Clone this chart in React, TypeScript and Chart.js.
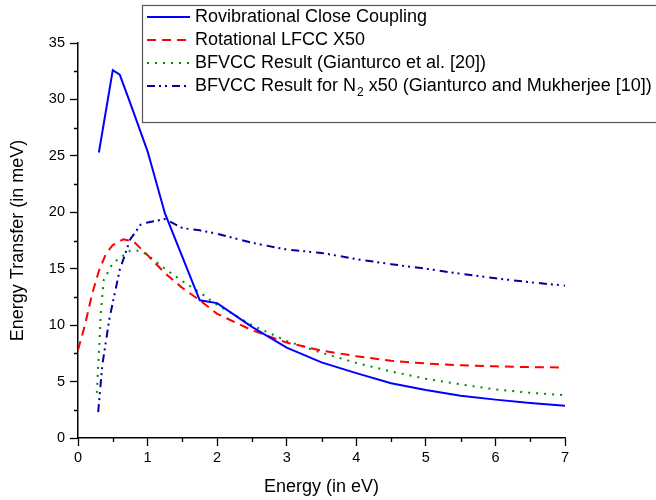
import React, { useEffect, useRef } from "react";
import { Chart, registerables } from "chart.js";

Chart.register(...registerables);

const rovibX = [0.3, 0.5, 0.6, 0.75, 1.0, 1.25, 1.75, 2.0, 2.5, 3.0, 3.5, 4.0, 4.5, 5.0, 5.5, 6.0, 6.5, 7.0];
const rovibY = [25.3, 32.6, 32.2, 29.7, 25.4, 19.9, 12.2, 11.95, 9.85, 8.0, 6.7, 5.75, 4.85, 4.25, 3.75, 3.4, 3.1, 2.85];

const rotX = [0, 0.1, 0.2, 0.3, 0.4, 0.5, 0.65, 0.8, 1.0, 1.25, 1.5, 1.75, 2.0, 2.5, 3.0, 3.5, 4.0, 4.5, 5.0, 5.5, 6.0, 6.5, 7.0];
const rotY = [7.8, 10.0, 12.7, 14.8, 16.3, 17.1, 17.6, 17.4, 16.2, 14.6, 13.3, 12.2, 11.0, 9.55, 8.45, 7.75, 7.25, 6.85, 6.6, 6.45, 6.35, 6.28, 6.25];

const bfvccX = [0.27, 0.3, 0.33, 0.37, 0.5, 0.75, 0.9, 1.0, 1.25, 1.5, 1.75, 2.0, 2.5, 3.0, 3.5, 4.0, 4.5, 5.0, 5.5, 6.0, 6.5, 7.0];
const bfvccY = [4.0, 7.5, 11.3, 14.0, 15.5, 16.6, 16.6, 16.2, 15.0, 13.9, 12.9, 11.8, 10.0, 8.6, 7.55, 6.65, 5.9, 5.25, 4.75, 4.3, 4.0, 3.8];

const n2X = [0.29, 0.35, 0.45, 0.5, 0.6, 0.75, 0.9, 1.0, 1.25, 1.5, 1.75, 2.0, 2.5, 3.0, 3.5, 4.0, 4.5, 5.0, 5.5, 6.0, 6.5, 7.0];
const n2Y = [2.3, 6.5, 10.5, 12.0, 14.9, 17.6, 18.9, 19.1, 19.4, 18.6, 18.4, 18.1, 17.3, 16.7, 16.4, 15.85, 15.4, 15.0, 14.55, 14.15, 13.8, 13.5];

const xTicks = [0, 1, 2, 3, 4, 5, 6, 7];
const yTicks = [0, 5, 10, 15, 20, 25, 30, 35];

const legendLabels = [
  "Rovibrational Close Coupling",
  "Rotational LFCC X50",
  "BFVCC Result (Gianturco et al. [20])",
  "BFVCC Result for N",
];

const FONT = "Arial, 'Liberation Sans', sans-serif";

const styles = [
  { color: "#0000ff", dash: [] as number[] },
  { color: "#ff0000", dash: [9, 6] },
  { color: "#008c00", dash: [2, 6] },
  { color: "#0000a0", dash: [8, 4, 2, 4, 2, 5] },
];

const pts = (xs: number[], ys: number[]) => xs.map((x, i) => ({ x, y: ys[i] }));

const decorPlugin = {
  id: "decor",
  afterDraw(chart: any) {
    const ctx = chart.ctx;
    const xs = chart.scales.x;
    const ys = chart.scales.y;
    const area = chart.chartArea;
    ctx.save();
    // minor ticks
    ctx.strokeStyle = "#000";
    ctx.lineWidth = 1.3;
    ctx.beginPath();
    for (let v = 0.5; v < 7; v += 1) {
      const px = Math.round(xs.getPixelForValue(v)) + 0.5;
      ctx.moveTo(px, area.bottom);
      ctx.lineTo(px, area.bottom + 4);
    }
    for (let v = 2.5; v < 35; v += 5) {
      const py = Math.round(ys.getPixelForValue(v)) + 0.5;
      ctx.moveTo(area.left, py);
      ctx.lineTo(area.left - 4, py);
    }
    ctx.stroke();

    // axis titles
    ctx.fillStyle = "#000";
    ctx.font = `18px ${FONT}`;
    ctx.textAlign = "center";
    ctx.textBaseline = "middle";
    ctx.fillText("Energy (in eV)", (area.left + area.right) / 2, 487);
    ctx.save();
    ctx.translate(18, (area.top + area.bottom) / 2);
    ctx.rotate(-Math.PI / 2);
    ctx.fillText("Energy Transfer (in meV)", 0, 0);
    ctx.restore();

    // legend
    const bx = 142.5, by = 5.5, bw = 600, bh = 117;
    ctx.fillStyle = "#fff";
    ctx.fillRect(bx, by, bw, bh);
    ctx.strokeStyle = "#555";
    ctx.lineWidth = 1.2;
    ctx.setLineDash([]);
    ctx.strokeRect(bx, by, bw, bh);
    const rows = [17, 40, 63, 86];
    ctx.textAlign = "left";
    ctx.textBaseline = "middle";
    rows.forEach((ry, i) => {
      ctx.strokeStyle = styles[i].color;
      ctx.lineWidth = 2;
      ctx.setLineDash(styles[i].dash);
      ctx.beginPath();
      ctx.moveTo(147, ry);
      ctx.lineTo(190, ry);
      ctx.stroke();
      ctx.setLineDash([]);
      ctx.fillStyle = "#000";
      ctx.font = `18px ${FONT}`;
      ctx.fillText(legendLabels[i], 195, ry);
      if (i === 3) {
        const w = ctx.measureText(legendLabels[i]).width;
        ctx.font = `12px ${FONT}`;
        ctx.fillText("2", 195 + w + 1, ry + 7);
        const w2 = ctx.measureText("2").width;
        ctx.font = `18px ${FONT}`;
        ctx.fillText(" x50 (Gianturco and Mukherjee [10])", 195 + w + 1 + w2, ry);
      }
    });
    ctx.restore();
  },
};

export default function App() {
  const ref = useRef<HTMLCanvasElement | null>(null);
  useEffect(() => {
    document.body.style.margin = "0";
    const canvas = ref.current!;
    const mk = (label: string, xs: number[], ys: number[], i: number) => ({
      label,
      data: pts(xs, ys),
      borderColor: styles[i].color,
      backgroundColor: styles[i].color,
      borderDash: styles[i].dash,
      borderWidth: 2,
      pointRadius: 0,
      tension: 0,
      fill: false,
    });
    const chart = new Chart(canvas, {
      type: "line",
      data: {
        datasets: [
          mk("Rovibrational Close Coupling", rovibX, rovibY, 0),
          mk("Rotational LFCC X50", rotX, rotY, 1),
          mk("BFVCC Result (Gianturco et al. [20])", bfvccX, bfvccY, 2),
          mk("BFVCC Result for N2 x50 (Gianturco and Mukherjee [10])", n2X, n2Y, 3),
        ],
      },
      options: {
        animation: false,
        responsive: false,
        maintainAspectRatio: false,
        layout: { padding: { left: 0, right: 91, top: 43, bottom: 0 } },
        plugins: { legend: { display: false }, tooltip: { enabled: false } },
        scales: {
          x: {
            type: "linear",
            min: 0,
            max: 7,
            afterBuildTicks: (s: any) => { s.ticks = xTicks.map((v) => ({ value: v })); },
            afterFit: (s: any) => { s.height = 62; },
            grid: { drawOnChartArea: false, drawTicks: true, tickLength: 8, color: "#000", tickWidth: 1.3 },
            border: { display: true, color: "#000", width: 1.5 },
            ticks: { color: "#000", font: { family: FONT, size: 14.5 }, padding: 3, maxRotation: 0 },
          },
          y: {
            type: "linear",
            min: 0,
            max: 35,
            afterBuildTicks: (s: any) => { s.ticks = yTicks.map((v) => ({ value: v })); },
            afterFit: (s: any) => { s.width = 78; },
            grid: { drawOnChartArea: false, drawTicks: true, tickLength: 8, color: "#000", tickWidth: 1.3 },
            border: { display: true, color: "#000", width: 1.5 },
            ticks: { color: "#000", font: { family: FONT, size: 14.5 }, padding: 5 },
          },
        },
      },
      plugins: [decorPlugin],
    });
    return () => chart.destroy();
  }, []);
  return <canvas ref={ref} width={656} height={500} style={{ display: "block" }} />;
}
